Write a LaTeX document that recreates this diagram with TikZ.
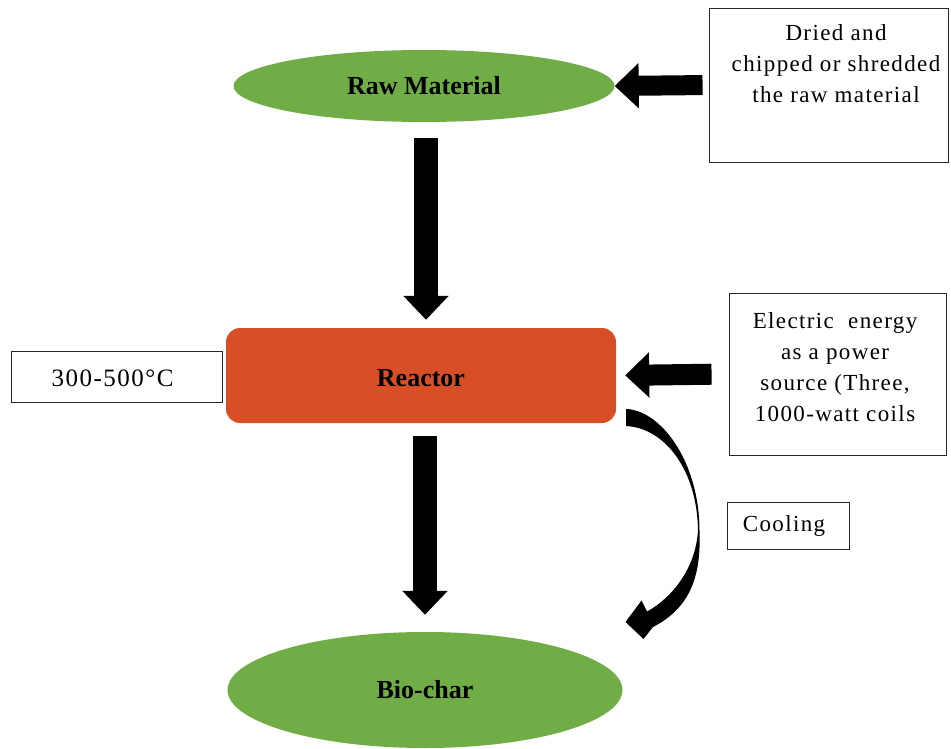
\documentclass[tikz,border=0pt]{standalone}
\usepackage{fontspec}
\setmainfont{Liberation Serif}[LetterSpace=6]
\newfontfamily\boldserif{Liberation Serif}[BoldFont={Liberation Serif Bold}]
\usetikzlibrary{shapes.geometric,arrows.meta}
\definecolor{leafgreen}{HTML}{70AD47}
\definecolor{reactorred}{HTML}{D84F27}
\begin{document}
\begin{tikzpicture}[x=1pt,y=-1pt,
  ovalnode/.style={ellipse, fill=leafgreen, draw=none, inner sep=0pt},
  reactorbox/.style={rectangle, rounded corners=14pt, fill=reactorred, draw=none, inner sep=0pt},
  infobox/.style={rectangle, draw=black!85, line width=0.9pt, fill=white, inner sep=0pt},
  titletext/.style={font=\boldserif\fontsize{26}{30}\selectfont\bfseries},
  bodytext/.style={font=\fontsize{23}{31}\selectfont, align=center, inner sep=0pt},
  blockarrow/.style={line width=#1pt, -{Triangle[width=44pt,length=24pt]}},
  blockarrow/.default=22
]
\useasboundingbox (0,0) rectangle (951,749);

% main flow
\node[ovalnode, minimum width=381pt, minimum height=72pt] (raw) at (424,86) {};
\node[titletext] (rawlabel) at (424,86) {Raw Material};
\node[reactorbox, minimum width=390pt, minimum height=95pt] (reactor) at (421,375.5) {};
\node[titletext] (reactorlabel) at (421,378) {Reactor};
\node[ovalnode, minimum width=395pt, minimum height=116pt] (bio) at (425,690) {};
\node[titletext] (biolabel) at (425,690) {Bio-char};

% info boxes
\node[infobox, minimum width=239pt, minimum height=154pt] (dried) at (828.5,85) {};
\node[bodytext] (driedtext) at (836,64) {Dried and\\chipped or shredded\\the raw material};
\node[infobox, minimum width=211pt, minimum height=51pt] (temp) at (116.5,376.5) {};
\node[bodytext, font=\fontsize{25}{31}\selectfont] (temptext) at (112.5,378) {300-500\textdegree C};
\node[infobox, minimum width=217pt, minimum height=162pt] (electric) at (837.5,374) {};
\node[bodytext] (electrictext) at (835,367) {Electric\ \ energy\\as a power\\source (Three,\\1000-watt coils};
\node[infobox, minimum width=122pt, minimum height=47pt] (cool) at (788,525.5) {};
\node[bodytext] (cooltext) at (784,526) {Cooling};

% straight block arrows
\draw[blockarrow=20, shorten <=6pt] (dried.west) -- (raw.east);
\draw[blockarrow=24, shorten <=16pt, shorten >=8pt] ([xshift=2pt]raw.south) -- ([xshift=2pt]raw.south |- reactor.north);
\draw[blockarrow=21, shorten <=17pt, shorten >=9pt] (electric.west) -- (reactor.east);
\draw[blockarrow=24, shorten <=13pt, shorten >=17pt] ([xshift=4pt]reactor.south) -- ([xshift=4pt]reactor.south |- bio.north);

% curved cooling arrow
\fill[black] (626,409) .. controls (660,410) and (699,460) .. (699.5,530)
  .. controls (701,570) and (694,606) .. (653,627)
  -- (643.5,639) -- (625.5,622) -- (641.5,600.5) -- (647,611.5)
  .. controls (672,598) and (696,568) .. (698,530)
  .. controls (697,470) and (665,428) .. (626,426) -- cycle;
\end{tikzpicture}
\end{document}
